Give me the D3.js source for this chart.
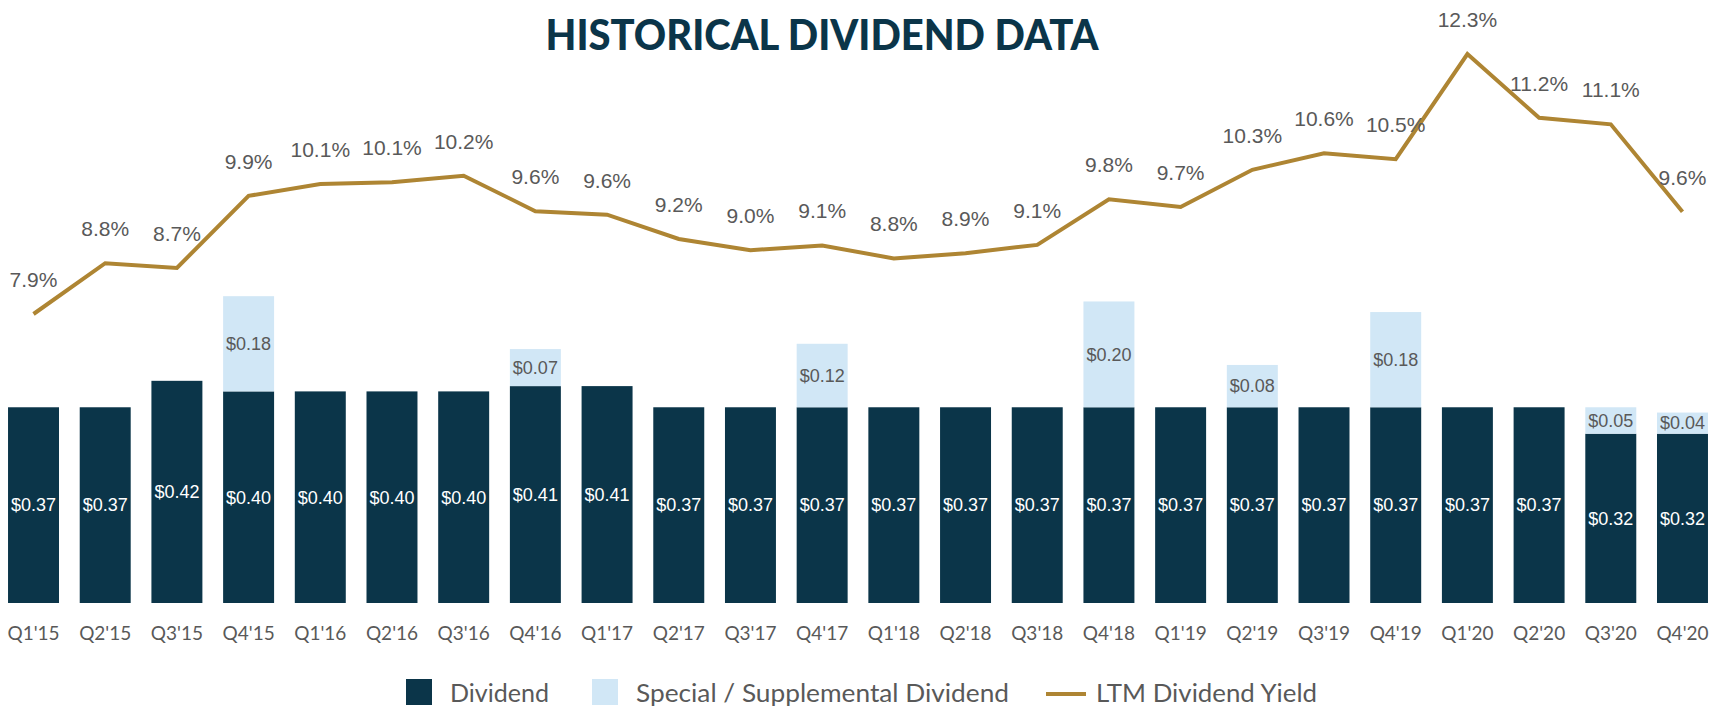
<!DOCTYPE html>
<html>
<head>
<meta charset="utf-8">
<script src="https://cdn.jsdelivr.net/npm/d3@7"></script>
<style>
  body { margin: 0; background: #fff; }
  svg { display: block; }
</style>
</head>
<body>
<script>
// data
const quarters = ["Q1'15","Q2'15","Q3'15","Q4'15","Q1'16","Q2'16","Q3'16","Q4'16",
  "Q1'17","Q2'17","Q3'17","Q4'17","Q1'18","Q2'18","Q3'18","Q4'18",
  "Q1'19","Q2'19","Q3'19","Q4'19","Q1'20","Q2'20","Q3'20","Q4'20"];
const dividend = [0.37,0.37,0.42,0.40,0.40,0.40,0.40,0.41,
  0.41,0.37,0.37,0.37,0.37,0.37,0.37,0.37,
  0.37,0.37,0.37,0.37,0.37,0.37,0.32,0.32];
const special = [0,0,0,0.18,0,0,0,0.07,
  0,0,0,0.12,0,0,0,0.20,
  0,0.08,0,0.18,0,0,0.05,0.04];
const ltmYield = [7.90,8.76,8.68,9.90,10.10,10.13,10.24,9.64,
  9.58,9.17,8.98,9.06,8.84,8.93,9.07,9.84,
  9.71,10.34,10.62,10.52,12.30,11.22,11.11,9.63];
const legendItems = ["Dividend","Special / Supplemental Dividend","LTM Dividend Yield"];

const width = 1725, height = 708;
const darkBlue = "#0b3549", lightBlue = "#d1e7f6", gold = "#ae8533", grey = "#595959";

const svg = d3.select("body").append("svg")
  .attr("width", width)
  .attr("height", height);

// scales
const x = d3.scaleBand()
  .domain(quarters)
  .range([0, 1716])
  .paddingInner(0.289)
  .paddingOuter(0.112);

const yBar = d3.scaleLinear().domain([0, 1]).range([603, 74]);
const yLine = d3.scaleLinear().domain([7.9, 12.3]).range([314, 54]);

const rows = quarters.map((q, i) => ({q: q, div: dividend[i], spec: special[i], yld: ltmYield[i]}));

// title
svg.append("text")
  .attr("x", 822)
  .attr("y", 50)
  .attr("text-anchor", "middle")
  .attr("textLength", 553)
  .attr("lengthAdjust", "spacingAndGlyphs")
  .style("font-family", "Lato, 'Open Sans', sans-serif")
  .style("font-weight", 900)
  .style("font-size", "42px")
  .style("fill", darkBlue)
  .text("HISTORICAL DIVIDEND DATA");

// regular dividend bars
svg.append("g").selectAll("rect")
  .data(rows)
  .enter().append("rect")
  .attr("x", d => x(d.q))
  .attr("width", x.bandwidth())
  .attr("y", d => yBar(d.div))
  .attr("height", d => yBar(0) - yBar(d.div))
  .attr("fill", darkBlue);

// special / supplemental on top
const specRows = rows.filter(d => d.spec > 0);
svg.append("g").selectAll("rect")
  .data(specRows)
  .enter().append("rect")
  .attr("x", d => x(d.q))
  .attr("width", x.bandwidth())
  .attr("y", d => yBar(d.div + d.spec))
  .attr("height", d => yBar(d.div) - yBar(d.div + d.spec))
  .attr("fill", lightBlue);

const money = d3.format("$.2f");

// labels inside the bars
svg.append("g").selectAll("text")
  .data(rows)
  .enter().append("text")
  .attr("x", d => x(d.q) + x.bandwidth() / 2)
  .attr("y", d => (yBar(0) + yBar(d.div)) / 2)
  .attr("dy", "0.35em")
  .attr("text-anchor", "middle")
  .style("font-family", "'Liberation Sans', Arial, sans-serif")
  .style("font-size", "18px")
  .style("fill", "#fff")
  .text(d => money(d.div));

svg.append("g").selectAll("text")
  .data(specRows)
  .enter().append("text")
  .attr("x", d => x(d.q) + x.bandwidth() / 2)
  .attr("y", d => (yBar(d.div) + yBar(d.div + d.spec)) / 2)
  .attr("dy", "0.35em")
  .attr("text-anchor", "middle")
  .style("font-family", "'Liberation Sans', Arial, sans-serif")
  .style("font-size", "18px")
  .style("fill", grey)
  .text(d => money(d.spec));

// LTM yield line
const line = d3.line()
  .x(d => x(d.q) + x.bandwidth() / 2)
  .y(d => yLine(d.yld));

svg.append("path")
  .datum(rows)
  .attr("d", line)
  .attr("fill", "none")
  .attr("stroke", gold)
  .attr("stroke-width", 4);

svg.append("g").selectAll("text")
  .data(rows)
  .enter().append("text")
  .attr("x", d => x(d.q) + x.bandwidth() / 2)
  .attr("y", d => yLine(d.yld) - 27)
  .attr("text-anchor", "middle")
  .style("font-family", "'Liberation Sans', Arial, sans-serif")
  .style("font-size", "21px")
  .style("fill", grey)
  .text(d => d3.format(".1f")(d.yld) + "%");

// x axis, labels only
const xAxis = svg.append("g")
  .attr("transform", "translate(0,603)")
  .call(d3.axisBottom(x).tickSize(0).tickPadding(24));
xAxis.select(".domain").remove();
xAxis.selectAll("text")
  .style("font-family", "Lato, sans-serif")
  .style("font-size", "19px")
  .style("fill", grey);

// legend (text widths stretched to the wider original face)
const legendWidths = [99, 373, 221];
const legend = svg.append("g").attr("transform", "translate(406,0)");
let lx = 0;
legendItems.forEach(function(name, i) {
  if (i < 2) {
    legend.append("rect")
      .attr("x", lx).attr("y", 679)
      .attr("width", 26).attr("height", 26)
      .attr("fill", i === 0 ? darkBlue : lightBlue);
    lx += 44;
  } else {
    legend.append("line")
      .attr("x1", lx).attr("x2", lx + 40)
      .attr("y1", 694).attr("y2", 694)
      .attr("stroke", gold).attr("stroke-width", 4);
    lx += 50;
  }
  legend.append("text")
    .attr("x", lx).attr("y", 702)
    .attr("textLength", legendWidths[i])
    .attr("lengthAdjust", "spacingAndGlyphs")
    .style("font-family", "Lato, sans-serif")
    .style("font-size", "25px")
    .style("fill", grey)
    .text(name);
  lx += legendWidths[i] + (i === 0 ? 43 : 37);
});
</script>
</body>
</html>
